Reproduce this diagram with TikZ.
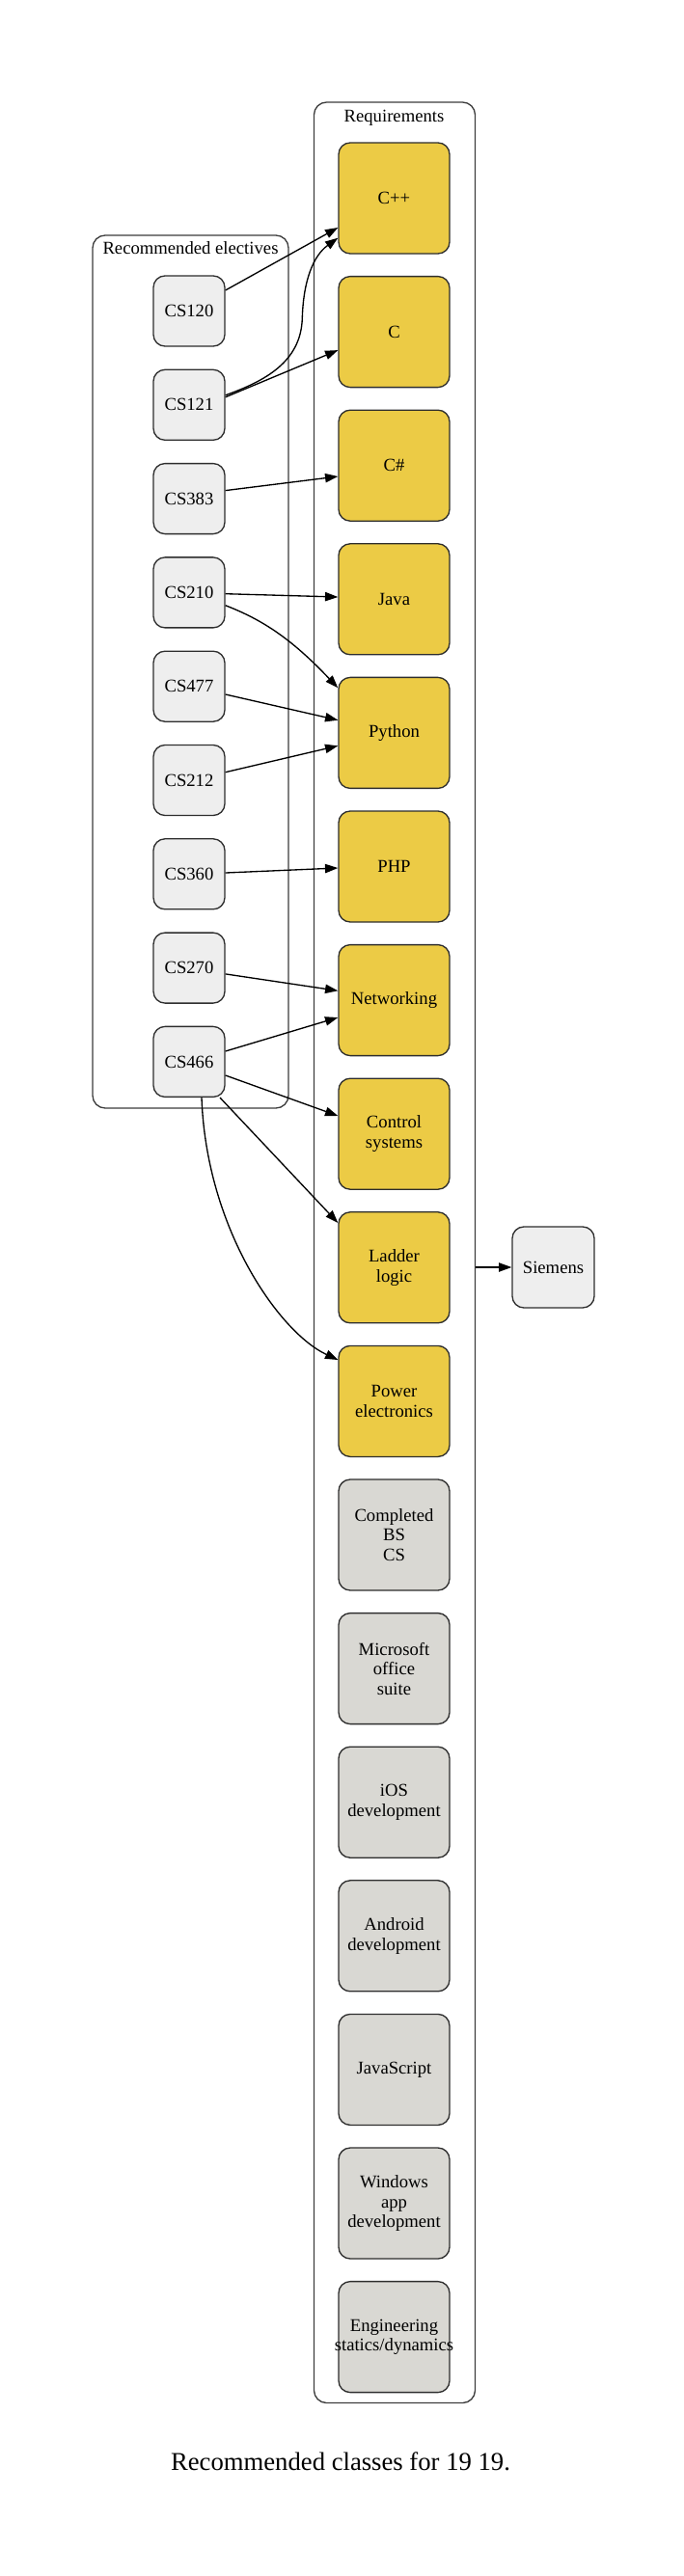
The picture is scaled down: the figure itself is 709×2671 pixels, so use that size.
\documentclass[tikz,border=0pt]{standalone}
\usepackage{fontspec}
\setmainfont{Liberation Serif}
\usetikzlibrary{arrows.meta,calc}
\definecolor{reqyellow}{RGB}{236,203,69}
\definecolor{reqgray}{RGB}{217,216,211}
\definecolor{elecgray}{RGB}{238,238,238}
\definecolor{bordergray}{RGB}{45,45,45}
\definecolor{clustergray}{RGB}{60,60,60}
\begin{document}
\begin{tikzpicture}[x=1pt,y=-1pt,
  box/.style={draw=bordergray, line width=1.33pt, rounded corners=12pt, inner sep=0pt, align=center, font=\fontsize{18.67}{20.5}\selectfont},
  elec/.style={box, fill=elecgray, minimum width=74pt, minimum height=73pt},
  req/.style={box, fill=reqyellow, minimum width=115pt, minimum height=115pt},
  reqg/.style={box, fill=reqgray, minimum width=115pt, minimum height=115pt},
  cluster/.style={draw=clustergray, line width=1.33pt, rounded corners=13pt, inner sep=0pt},
  edge/.style={line width=1.33pt, -{Triangle[length=13.3pt,width=9.3pt]}},
  cl/.style={font=\fontsize{18.67}{20.5}\selectfont, anchor=base, inner sep=0pt}
]
\useasboundingbox (0,0) rectangle (709,2671);

% clusters
\node[cluster, minimum width=167pt, minimum height=2385.5pt] (reqcl) at (409,1298.75) {};
\node[cluster, minimum width=203pt, minimum height=905pt] (eleccl) at (197.5,696.5) {};
\node[cl] (reqlabel) at (408.5,126.7) {Requirements};
\node[cl] (eleclabel) at (197.5,263.3) {Recommended electives};

% electives
\node[elec] (cs120) at (196,322.5) {CS120};
\node[elec] (cs121) at (196,419.8) {CS121};
\node[elec] (cs383) at (196,517.1) {CS383};
\node[elec] (cs210) at (196,614.4) {CS210};
\node[elec] (cs477) at (196,711.7) {CS477};
\node[elec] (cs212) at (196,809.0) {CS212};
\node[elec] (cs360) at (196,906.3) {CS360};
\node[elec] (cs270) at (196,1003.6) {CS270};
\node[elec] (cs466) at (196,1100.9) {CS466};

% requirements
\node[req] (cpp) at (408.5,205.5) {C++};
\node[req] (c) at (408.5,344.1) {C};
\node[req] (csharp) at (408.5,482.7) {C\#};
\node[req] (java) at (408.5,621.3) {Java};
\node[req] (python) at (408.5,759.9) {Python};
\node[req] (php) at (408.5,898.5) {PHP};
\node[req] (net) at (408.5,1037.1) {Networking};
\node[req] (ctrl) at (408.5,1175.7) {Control\\systems};
\node[req] (ladder) at (408.5,1314.3) {Ladder\\logic};
\node[req] (power) at (408.5,1452.9) {Power\\electronics};
\node[reqg] (bs) at (408.5,1591.5) {Completed\\BS\\CS};
\node[reqg] (office) at (408.5,1730.1) {Microsoft\\office\\suite};
\node[reqg] (ios) at (408.5,1868.7) {iOS\\development};
\node[reqg] (android) at (408.5,2007.3) {Android\\development};
\node[reqg] (js) at (408.5,2145.9) {JavaScript};
\node[reqg] (win) at (408.5,2284.5) {Windows\\app\\development};
\node[reqg, inner xsep=-6pt] (eng) at (408.5,2423.1) {Engineering\\statics/dynamics};

\node[elec, minimum width=85pt, minimum height=84pt] (siemens) at (573.5,1314) {Siemens};

% edges
\draw[edge] ([shift={(0,-21.5)}]cs120.east) -- ([shift={(0,30.5)}]cpp.west);
\draw[edge] ([shift={(0,-10)}]cs121.east) .. controls (275,395) and (312,375) .. (313.3,330)
  .. controls (314.5,290) and (325,265) .. ([shift={(0,41.2)}]cpp.west);
\draw[edge] ([shift={(0,-8)}]cs121.east) -- ([shift={(0,19)}]c.west);
\draw[edge] ([shift={(0,-8.5)}]cs383.east) -- ([shift={(0,11.3)}]csharp.west);
\draw[edge] ([shift={(0,1.3)}]cs210.east) -- ([shift={(0,-2.3)}]java.west);
\draw[edge] ([shift={(0,13.3)}]cs210.east) .. controls (270,642) and (300,660) .. ([shift={(0,-46.6)}]python.west);
\draw[edge] ([shift={(0,8.3)}]cs477.east) -- ([shift={(0,-13.2)}]python.west);
\draw[edge] ([shift={(0,-8.3)}]cs212.east) -- ([shift={(0,13.4)}]python.west);
\draw[edge] ([shift={(0,-1.3)}]cs360.east) -- ([shift={(0,1.5)}]php.west);
\draw[edge] ([shift={(0,6.3)}]cs270.east) -- ([shift={(0,-9.8)}]net.west);
\draw[edge] ([shift={(0,-10.9)}]cs466.east) -- ([shift={(0,17.9)}]net.west);
\draw[edge] ([shift={(0,14.1)}]cs466.east) -- ([shift={(0,-18.7)}]ctrl.west);
\draw[edge] ([shift={(32,0)}]cs466.south) -- ([shift={(0,-46.3)}]ladder.west);
\draw[edge] ([shift={(13,0)}]cs466.south) .. controls (214,1275) and (290,1382) .. ([shift={(0,-42.9)}]power.west);
\draw[edge] (siemens.west -| reqcl.east) -- (siemens.west);

% caption
\node[font=\fontsize{26.67}{32}\selectfont, inner sep=0pt] (caption) at (353,2552) {Recommended classes for 19 19.};
\end{tikzpicture}
\end{document}
